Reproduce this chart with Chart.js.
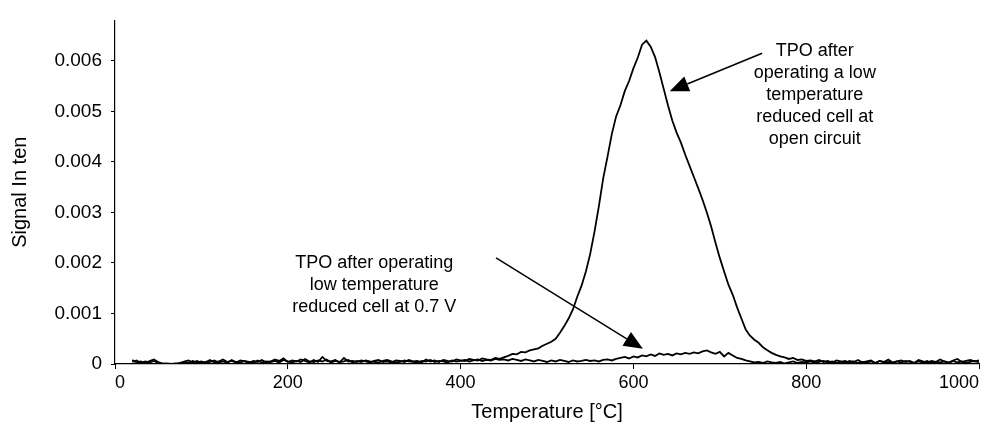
<!DOCTYPE html>
<html>
<head>
<meta charset="utf-8">
<script src="https://cdn.jsdelivr.net/npm/chart.js@4.4.0/dist/chart.umd.min.js"></script>
<style>
  html, body { margin: 0; padding: 0; background: #fff; }
  #wrap { width: 982px; height: 429px; }
</style>
</head>
<body>
<div id="wrap"><canvas id="tpoChart" width="982" height="429"></canvas></div>
<script>
// temperature grid [°C]
const temperatures = [
  20, 25, 30, 35, 40, 45, 50, 55, 60, 65,
  70, 75, 80, 85, 90, 95, 100, 105, 110, 115,
  120, 125, 130, 135, 140, 145, 150, 155, 160, 165,
  170, 175, 180, 185, 190, 195, 200, 205, 210, 215,
  220, 225, 230, 235, 240, 245, 250, 255, 260, 265,
  270, 275, 280, 285, 290, 295, 300, 305, 310, 315,
  320, 325, 330, 335, 340, 345, 350, 355, 360, 365,
  370, 375, 380, 385, 390, 395, 400, 405, 410, 415,
  420, 425, 430, 435, 440, 445, 450, 455, 460, 465,
  470, 475, 480, 485, 490, 495, 500, 505, 510, 515,
  520, 525, 530, 535, 540, 545, 550, 555, 560, 565,
  570, 575, 580, 585, 590, 595, 600, 605, 610, 615,
  620, 625, 630, 635, 640, 645, 650, 655, 660, 665,
  670, 675, 680, 685, 690, 695, 700, 705, 710, 715,
  720, 725, 730, 735, 740, 745, 750, 755, 760, 765,
  770, 775, 780, 785, 790, 795, 800, 805, 810, 815,
  820, 825, 830, 835, 840, 845, 850, 855, 860, 865,
  870, 875, 880, 885, 890, 895, 900, 905, 910, 915,
  920, 925, 930, 935, 940, 945, 950, 955, 960, 965,
  970, 975, 980, 985, 990, 995, 1000
];

// TPO after operating a low temperature reduced cell at open circuit
const openCircuit = [
  0.00008, 0.00003, 0.00005, 0.00002, 0.00006, 0.00009, 0.00004, 0.00001, 0, 0,
  0.00001, 0, 0.00005, 0.00007, 0.00003, 0.00006, 0.00002, 0.00004, 0.00008, 0.00003,
  0.00005, 0.00009, 0.00004, 0.00006, 0.00003, 0.00007, 0.00005, 0.00002, 0.00006, 0.00004,
  0.00008, 0.00003, 0.00005, 0.00009, 0.00006, 0.00011, 0.00004, 0.00007, 0.00005, 0.00009,
  0.00006, 0.00003, 0.00008, 0.00004, 0.00014, 0.00006, 0.00005, 0.00008, 0.00003, 0.00012,
  0.00005, 0.00006, 0.00004, 0.00007, 0.00005, 0.00003, 0.00006, 0.00008, 0.00004, 0.00005,
  0.00003, 0.00007, 0.00006, 0.00004, 0.00008, 0.00005, 0.00006, 0.00003, 0.00009, 0.00005,
  0.00007, 0.00004, 0.00008, 0.00006, 0.00005, 0.00009, 0.00007, 0.00006, 0.0001, 0.00008,
  0.00007, 0.00011, 0.00009, 0.00008, 0.00012, 0.0001, 0.00013, 0.00016, 0.0002, 0.00019,
  0.00024, 0.00023, 0.00027, 0.00029, 0.00031, 0.00036, 0.0004, 0.00044, 0.0005, 0.00062,
  0.00075, 0.0009, 0.00108, 0.00133, 0.00155, 0.00183, 0.00218, 0.00262, 0.00312, 0.00367,
  0.0041, 0.00455, 0.0049, 0.00512, 0.0054, 0.0056, 0.00585, 0.00606, 0.00632, 0.0064,
  0.00628, 0.00608, 0.00578, 0.00545, 0.00512, 0.00482, 0.00458, 0.00438, 0.00414, 0.00392,
  0.0037, 0.00348, 0.00325, 0.003, 0.00272, 0.0024, 0.0021, 0.00183, 0.00157, 0.00137,
  0.00112, 0.0009, 0.00068, 0.00056, 0.00048, 0.00042, 0.00033, 0.00027, 0.00022, 0.00018,
  0.00015, 0.00013, 0.0001, 0.00012, 0.00008, 0.00009, 0.00006, 0.00007, 0.00005, 0.00008,
  0.00004, 0.00006, 0.00003, 0.00007, 0.00005, 0.00002, 0.00006, 0.00004, 0.00008, 0.00003,
  0.00005, 0.00007, 0.00002, 0.00006, 0.00004, 0.00009, 0.00003, 0.00005, 0.00007, 0.00004,
  0.00006, 0.00002, 0.00008, 0.00005, 0.00003, 0.00006, 0.00004, 0.00009, 0.00005, 0.00003,
  0.00007, 0.0001, 0.00004, 0.00006, 0.00008, 0.00005, 0.00007
];

// TPO after operating low temperature reduced cell at 0.7 V
const at07V = [
  0.00004, 0.00007, 0.00002, 0.00005, 0.00003, 0.00006, 0.00002, 0, 0.00001, 0,
  0, 0.00002, 0.00004, 0.00002, 0.00006, 0.00003, 0.00005, 0.00002, 0.00004, 0.00007,
  0.00003, 0.00005, 0.00002, 0.00008, 0.00004, 0.00003, 0.00006, 0.00004, 0.00002, 0.00007,
  0.00003, 0.00005, 0.00004, 0.00006, 0.00003, 0.00008, 0.00005, 0.00003, 0.00006, 0.00004,
  0.0001, 0.00005, 0.00004, 0.00007, 0.00005, 0.00009, 0.00003, 0.00006, 0.00004, 0.00005,
  0.00008, 0.00003, 0.00006, 0.00004, 0.00007, 0.00005, 0.00004, 0.00003, 0.00006, 0.00008,
  0.00005, 0.00003, 0.00004, 0.00007, 0.00005, 0.00004, 0.00003, 0.00006, 0.00005, 0.00008,
  0.00004, 0.00006, 0.00005, 0.00003, 0.00007, 0.00005, 0.00006, 0.00008, 0.00005, 0.00007,
  0.00009, 0.00006, 0.00008, 0.00007, 0.0001, 0.00008, 0.00009, 0.00007, 0.0001, 0.00008,
  0.00006, 0.00009, 0.00007, 0.00005, 0.00008, 0.00006, 0.00004, 0.00007, 0.00005, 0.00008,
  0.00006, 0.00004, 0.00007, 0.00005, 0.00006, 0.00008, 0.00006, 0.00007, 0.00005, 0.00008,
  0.00009, 0.00007, 0.0001, 0.00012, 0.00014, 0.00011, 0.00015, 0.00013, 0.00017, 0.00015,
  0.00019, 0.00016, 0.00021, 0.00018, 0.0002, 0.00017, 0.00021, 0.00019, 0.00022, 0.0002,
  0.00023, 0.00021, 0.00025, 0.00027, 0.00023, 0.0002, 0.00024, 0.00015, 0.00022, 0.00017,
  0.00012, 0.0001, 0.00007, 0.00005, 0.00003, 0.00004, 0.00002, 0.00005, 0.00003, 0.00002,
  0.00004, 0.00001, 0.00003, 0.00005, 0.00002, 0.00004, 0.00003, 0.00005, 0.00002, 0.00004,
  0.00006, 0.00003, 0.00005, 0.00002, 0.00004, 0.00006, 0.00003, 0.00005, 0.00002, 0.00004,
  0.00003, 0.00005, 0.00002, 0.00006, 0.00003, 0.00004, 0.00002, 0.00005, 0.00003, 0.00006,
  0.00004, 0.00002, 0.00005, 0.00003, 0.00006, 0.00002, 0.00004, 0.00003, 0.00005, 0.00002,
  0.00006, 0.00003, 0.00005, 0.00002, 0.00004, 0.00006, 0.00003
];

// callouts, positioned in data units
const notes = [
  { lines: ["TPO after", "operating a low", "temperature", "reduced cell at", "open circuit"], x: 810, y: 0.00619 },
  { lines: ["TPO after operating", "low temperature", "reduced cell at 0.7 V"], x: 300, y: 0.002 }
];
const arrows = [
  { from: [749, 0.00615], to: [642, 0.0054] },
  { from: [441, 0.0021], to: [611, 0.0003] }
];

const FONT = "'Liberation Sans', Arial, Helvetica, sans-serif";

const calloutPlugin = {
  id: "callouts",
  afterDatasetsDraw(chart) {
    const { ctx, scales: { x, y } } = chart;
    ctx.save();
    ctx.fillStyle = "#000";
    ctx.strokeStyle = "#000";
    ctx.font = `18px ${FONT}`;
    ctx.textAlign = "center";
    ctx.textBaseline = "middle";
    notes.forEach((n) => {
      const cx = x.getPixelForValue(n.x);
      const cy = y.getPixelForValue(n.y);
      n.lines.forEach((line, i) => ctx.fillText(line, cx, cy + i * 22));
    });
    arrows.forEach((a) => {
      const x1 = x.getPixelForValue(a.from[0]), y1 = y.getPixelForValue(a.from[1]);
      const x2 = x.getPixelForValue(a.to[0]), y2 = y.getPixelForValue(a.to[1]);
      const ang = Math.atan2(y2 - y1, x2 - x1);
      const len = 19, half = 8;
      const bx = x2 - len * Math.cos(ang), by = y2 - len * Math.sin(ang);
      ctx.lineWidth = 1.5;
      ctx.beginPath();
      ctx.moveTo(x1, y1);
      ctx.lineTo(bx, by);
      ctx.stroke();
      ctx.beginPath();
      ctx.moveTo(x2, y2);
      ctx.lineTo(bx + half * Math.sin(ang), by - half * Math.cos(ang));
      ctx.lineTo(bx - half * Math.sin(ang), by + half * Math.cos(ang));
      ctx.closePath();
      ctx.fill();
    });
    ctx.restore();
  }
};

const line = (values) => ({
  data: temperatures.map((t, i) => ({ x: t, y: values[i] })),
  borderColor: "#000",
  borderWidth: 1.8,
  pointRadius: 0,
  tension: 0,
  fill: false
});

new Chart(document.getElementById("tpoChart"), {
  type: "line",
  data: { datasets: [line(openCircuit), line(at07V)] },
  options: {
    responsive: false,
    animation: false,
    layout: { padding: { top: 10, right: 0, left: 0, bottom: 0 } },
    plugins: { legend: { display: false }, tooltip: { enabled: false } },
    scales: {
      x: {
        type: "linear",
        min: 0,
        max: 1000,
        border: { color: "#000", width: 1.2 },
        grid: { drawOnChartArea: false, drawTicks: true, tickLength: 5, color: "#000" },
        ticks: {
          stepSize: 200,
          align: "inner",
          padding: 3,
          color: "#000",
          font: { family: FONT, size: 18 },
          callback: (v) => String(v)
        },
        title: { display: true, text: "Temperature [°C]", color: "#000", font: { family: FONT, size: 20 }, padding: { top: 0, bottom: 5 } },
        afterFit: (s) => { s.height = 65; }
      },
      y: {
        min: 0,
        max: 0.0068,
        border: { color: "#000", width: 1.2 },
        grid: { drawOnChartArea: false, drawTicks: true, tickLength: 4, color: "#000" },
        ticks: {
          stepSize: 0.001,
          includeBounds: false,
          padding: 9,
          color: "#000",
          font: { family: FONT, size: 19 },
          callback: (v) => (v === 0 ? "0" : v.toFixed(3))
        },
        title: { display: true, text: "Signal In ten", color: "#000", font: { family: FONT, size: 20 }, padding: { top: 8, bottom: 0 } },
        afterFit: (s) => { s.width = 115; }
      }
    }
  },
  plugins: [calloutPlugin]
});
</script>
</body>
</html>
